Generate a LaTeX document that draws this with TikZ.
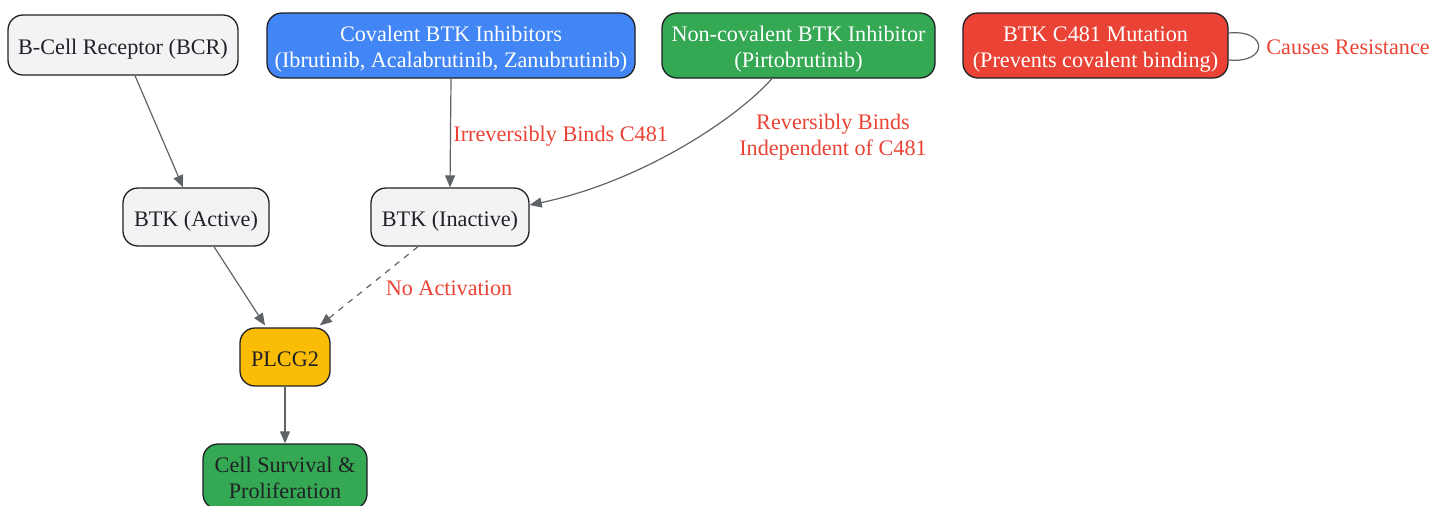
\documentclass[tikz,border=0pt]{standalone}
\usepackage{fontspec}
\setmainfont{Liberation Serif}
\usetikzlibrary{arrows.meta}
\definecolor{gfill}{HTML}{F1F3F4}
\definecolor{gdark}{HTML}{202124}
\definecolor{gedge}{HTML}{5F6368}
\definecolor{gblue}{HTML}{4285F4}
\definecolor{ggreen}{HTML}{34A853}
\definecolor{gred}{HTML}{EA4335}
\definecolor{gyellow}{HTML}{FBBC05}
\newcommand{\nodetext}[1]{\raisebox{-2pt}[\height][\depth]{\begin{tabular}{@{}c@{}}#1\end{tabular}}}
\begin{document}
\begin{tikzpicture}[x=0.5pt,y=-0.5pt,
  box/.style={draw=gdark,line width=0.65pt,rounded corners=7.5pt,inner sep=0pt,
    font=\fontsize{11.1}{13}\selectfont,text=gdark},
  gray/.style={box,fill=gfill},
  edge/.style={draw=gedge,line width=0.6pt,-{Triangle[length=6pt,width=5pt]}},
  lbl/.style={text=gred,font=\fontsize{11.1}{13}\selectfont,align=center,inner sep=0pt}]
\useasboundingbox (0,0) rectangle (1445,505);
\node[gray,minimum width=115pt,minimum height=30pt] (bcr) at (123,45) {\nodetext{B-Cell Receptor (BCR)}};
\node[box,fill=gblue,text=white,minimum width=184pt,minimum height=32.5pt] (cov) at (451,45.5) {\nodetext{Covalent BTK Inhibitors\\(Ibrutinib, Acalabrutinib, Zanubrutinib)}};
\node[box,fill=ggreen,text=white,minimum width=136.5pt,minimum height=32.5pt] (ncov) at (798.5,45.5) {\nodetext{Non-covalent BTK Inhibitor\\(Pirtobrutinib)}};
\node[box,fill=gred,text=white,minimum width=132.5pt,minimum height=32.5pt] (mut) at (1095.5,45.5) {\nodetext{BTK C481 Mutation\\(Prevents covalent binding)}};
\node[gray,minimum width=73pt,minimum height=29pt] (bact) at (196,217) {\nodetext{BTK (Active)}};
\node[gray,minimum width=79pt,minimum height=29pt] (binact) at (450,217) {\nodetext{BTK (Inactive)}};
\node[box,fill=gyellow,minimum width=45pt,minimum height=29pt] (plcg) at (285,357) {\nodetext{PLCG2}};
\node[box,fill=ggreen,minimum width=82pt,minimum height=32.5pt] (cell) at (285,476.5) {\nodetext{Cell Survival \&\\Proliferation}};

\draw[edge] ([xshift=6pt]bcr.south) -- ([xshift=-6.5pt]bact.north);
\draw[edge] (cov.south) -- (binact.north);
\node[lbl,anchor=west] (l1) at (453,136) {Irreversibly Binds C481};
\draw[edge] ([xshift=-13.25pt]ncov.south) .. controls (735,120) and (640,182) .. ([yshift=6pt]binact.east);
\node[lbl] (l2) at (833,137.5) {Reversibly Binds\\Independent of C481};
\draw[edge] ([xshift=9pt]bact.south) -- ([xshift=-10pt,yshift=1pt]plcg.north);
\draw[edge,dashed] ([xshift=-16pt]binact.south) -- ([xshift=17.5pt,yshift=1pt]plcg.north);
\node[lbl] (l3) at (449,288) {No Activation};
\draw[edge] (plcg.south) -- (cell.north);
\draw[draw=gedge,line width=0.6pt] ([yshift=6.25pt]mut.east) .. controls +(20pt,2pt) and +(20pt,-2pt) .. ([yshift=-7.25pt]mut.east);
\node[lbl,anchor=west] (l4) at (1266,47.5) {Causes Resistance};
\end{tikzpicture}
\end{document}
